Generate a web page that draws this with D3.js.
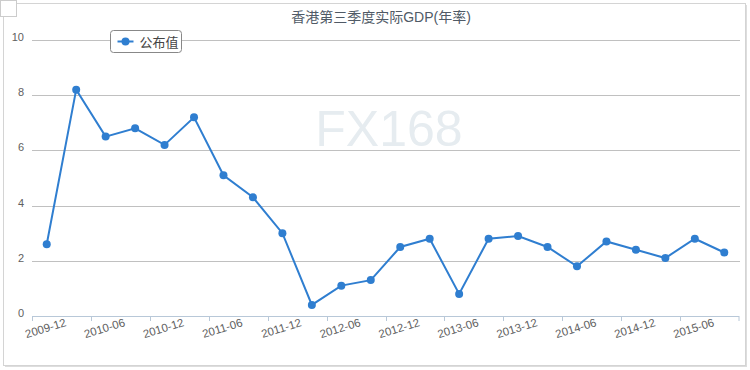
<!DOCTYPE html>
<html>
<head>
<meta charset="utf-8">
<script src="https://cdn.jsdelivr.net/npm/d3@7"></script>
<style>
body { margin: 0; background: #fff; }
</style>
</head>
<body>
<script>
// data
var quarters = ['2009-12', '2010-03', '2010-06', '2010-09', '2010-12', '2011-03', '2011-06', '2011-09',
    '2011-12', '2012-03', '2012-06', '2012-09', '2012-12', '2013-03', '2013-06', '2013-09',
    '2013-12', '2014-03', '2014-06', '2014-09', '2014-12', '2015-03', '2015-06', '2015-09'];
var gdp = [2.6, 8.2, 6.5, 6.8, 6.2, 7.2, 5.1, 4.3, 3.0, 0.4, 1.1, 1.3,
    2.5, 2.8, 0.8, 2.8, 2.9, 2.5, 1.8, 2.7, 2.4, 2.1, 2.8, 2.3];
var yTicks = [0, 2, 4, 6, 8, 10];
var title = '香港第三季度实际GDP(年率)';
var seriesName = '公布值';

var svg = d3.select("body")
    .append("svg")
    .attr("width", 750)
    .attr("height", 370)
    .style('display', 'block');

var font = "'Liberation Sans', Arial, 'Noto Sans CJK SC', sans-serif";

//frame
svg.append('rect')
    .attr('x', 5).attr('y', 5).attr('width', 742).attr('height', 362)
    .attr('fill', '#ddd');
svg.append('rect')
    .attr('x', 3.5).attr('y', 3.5).attr('width', 742).attr('height', 362)
    .attr('fill', '#fff').attr('stroke', '#d4d4d4');
svg.append('rect')
    .attr('x', 0.5).attr('y', 0.5).attr('width', 16).attr('height', 16)
    .attr('fill', '#fff').attr('stroke', '#ccc');

var margin = {left: 32, right: 739, top: 40, bottom: 316};

var x = d3.scaleBand()
    .domain(quarters)
    .range([margin.left, margin.right]);
var y = d3.scaleLinear()
    .domain([0, 10])
    .range([margin.bottom, margin.top]);

//watermark
svg.append('text')
    .attr('x', 389).attr('y', 146)
    .attr('text-anchor', 'middle')
    .attr('fill', '#e6ecf0')
    .style('font-family', font)
    .style('font-size', '50px')
    .text('FX168');

//grid
svg.append('g')
    .selectAll('line')
    .data(yTicks.filter(function (d) { return d > 0; }))
    .enter()
    .append('line')
    .attr('x1', margin.left).attr('x2', 740)
    .attr('y1', function (d) { return Math.round(y(d)) + 0.5; })
    .attr('y2', function (d) { return Math.round(y(d)) + 0.5; })
    .attr('stroke', '#c0c0c0');

//y labels
svg.append('g')
    .selectAll('text')
    .data(yTicks)
    .enter()
    .append('text')
    .attr('x', 24)
    .attr('y', function (d) { return y(d) + 1; })
    .attr('text-anchor', 'end')
    .attr('fill', '#606060')
    .style('font-family', font)
    .style('font-size', '11px')
    .text(function (d) { return d; });

//x axis
var xAxis = svg.append('g');
xAxis.append('line')
    .attr('x1', margin.left).attr('x2', margin.right)
    .attr('y1', margin.bottom + 0.5).attr('y2', margin.bottom + 0.5)
    .attr('stroke', '#b8c8d8');
var every2 = quarters.filter(function (d, i) { return i % 2 === 0; });
xAxis.selectAll('.tick')
    .data(every2.concat(['end']))
    .enter()
    .append('line')
    .attr('x1', function (d) { return d === 'end' ? margin.right : Math.round(x(d)) + 0.5; })
    .attr('x2', function (d) { return d === 'end' ? margin.right : Math.round(x(d)) + 0.5; })
    .attr('y1', margin.bottom).attr('y2', margin.bottom + 5)
    .attr('stroke', '#b8c8d8');
xAxis.selectAll('text')
    .data(every2)
    .enter()
    .append('text')
    .attr('text-anchor', 'middle')
    .attr('transform', function (d) {
        return 'translate(' + (x(d) + x.bandwidth() / 2) + ',' + 332 + ') rotate(-17)';
    })
    .attr('fill', '#606060')
    .style('font-family', font)
    .style('font-size', '11.5px')
    .text(function (d) { return d; });

//title
svg.append('text')
    .attr('x', 381).attr('y', 22)
    .attr('text-anchor', 'middle')
    .attr('fill', '#505a66')
    .style('font-family', font)
    .style('font-size', '14px')
    .text(title);

//line
var line = d3.line()
    .x(function (d, i) { return x(quarters[i]) + x.bandwidth() / 2; })
    .y(function (d) { return y(d); });

svg.append('path')
    .datum(gdp)
    .attr('d', line)
    .attr('fill', 'none')
    .attr('stroke', '#2f7ed0')
    .attr('stroke-width', 2);

svg.append('g')
    .selectAll('circle')
    .data(gdp)
    .enter()
    .append('circle')
    .attr('cx', function (d, i) { return x(quarters[i]) + x.bandwidth() / 2; })
    .attr('cy', function (d) { return y(d); })
    .attr('r', 4)
    .attr('fill', '#2f7ed0');

//legend
var lg = svg.append('g').attr('transform', 'translate(110.5,30.5)');
lg.append('rect')
    .attr('width', 71).attr('height', 22).attr('rx', 3)
    .attr('fill', '#fff').attr('stroke', '#888');
lg.append('line')
    .attr('x1', 7).attr('x2', 23).attr('y1', 11).attr('y2', 11)
    .attr('stroke', '#2f7ed0').attr('stroke-width', 2);
lg.append('circle')
    .attr('cx', 15).attr('cy', 11).attr('r', 4)
    .attr('fill', '#2f7ed0');
lg.append('text')
    .attr('x', 29).attr('y', 16)
    .attr('fill', '#444')
    .style('font-family', font)
    .style('font-size', '13px')
    .text(seriesName);
</script>
</body>
</html>
